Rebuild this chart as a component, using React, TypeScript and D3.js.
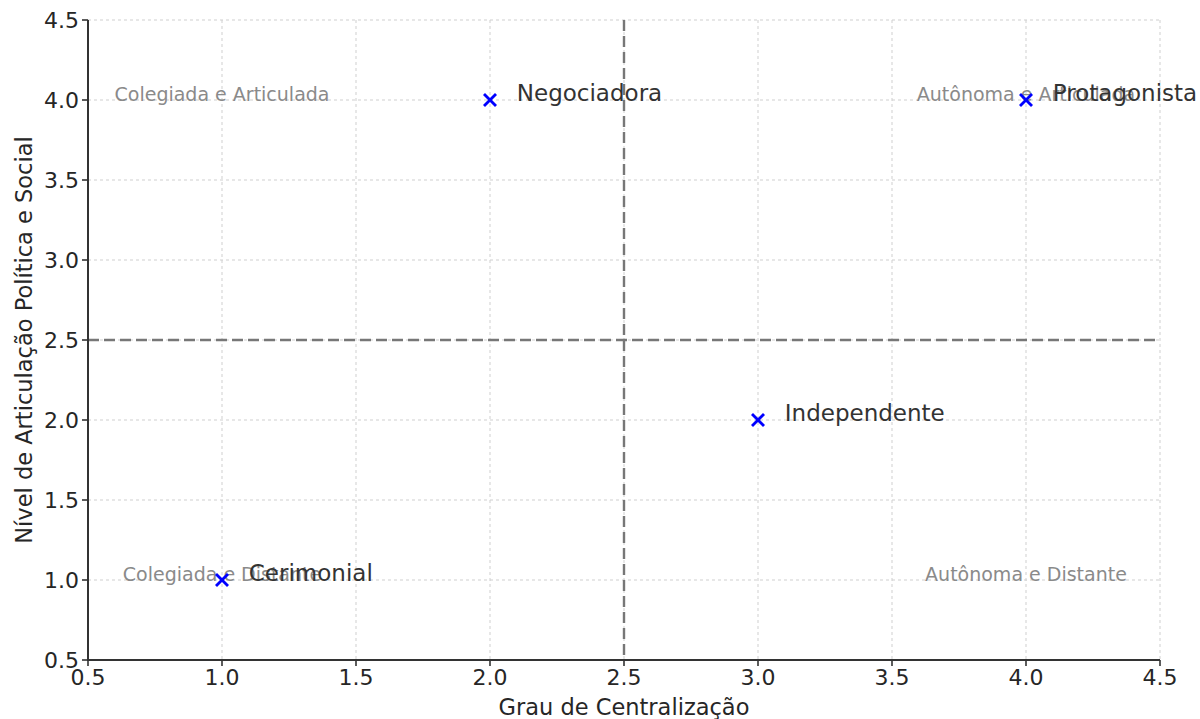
import React from 'react';
import * as d3 from 'd3';

const categories = ['Cerimonial', 'Negociadora', 'Independente', 'Protagonista'];
const centralizacao = [1, 2, 3, 4];
const articulacao = [1, 4, 2, 4];

const quadrantNames = ['Colegiada e Articulada', 'Colegiada e Distante', 'Autônoma e Articulada', 'Autônoma e Distante'];
const quadrantX = [1, 1, 4, 4];
const quadrantY = [4, 1, 4, 1];

const xTicks = [0.5, 1.0, 1.5, 2.0, 2.5, 3.0, 3.5, 4.0, 4.5];
const yTicks = [0.5, 1.0, 1.5, 2.0, 2.5, 3.0, 3.5, 4.0, 4.5];
const divider = 2.5;

const xLabel = 'Grau de Centralização';
const yLabel = 'Nível de Articulação Política e Social';

const W = 1200;
const H = 719;
const left = 88;
const right = 1160;
const top = 20;
const bottom = 660;

export default function App() {
  const x = d3.scaleLinear().domain([0.5, 4.5]).range([left, right]);
  const y = d3.scaleLinear().domain([0.5, 4.5]).range([bottom, top]);
  const font = "'DejaVu Sans', sans-serif";
  const fmt = d3.format('.1f');
  const ms = 6;

  return (
    <div style={{ position: 'fixed', left: 0, top: 0 }}>
      <svg width={W} height={H} style={{ display: 'block', background: '#fff' }} fontFamily={font}>
        {/* grid */}
        <g stroke="#cfcfcf" strokeWidth={1} strokeDasharray="3,3">
          {xTicks.map((t) => (
            <line key={'gx' + t} x1={x(t)} x2={x(t)} y1={y(4.5)} y2={y(0.5)} />
          ))}
          {yTicks.map((t) => (
            <line key={'gy' + t} x1={x(0.5)} x2={x(4.5)} y1={y(t)} y2={y(t)} />
          ))}
        </g>
        {/* quadrant dividers */}
        <g stroke="#777" strokeWidth={2.4} strokeDasharray="11,5">
          <line x1={x(divider)} x2={x(divider)} y1={y(4.5)} y2={y(0.5)} />
          <line x1={x(0.5)} x2={x(4.5)} y1={y(divider)} y2={y(divider)} />
        </g>
        {/* quadrant labels */}
        <g fill="#8a8a8a" fontSize={19} textAnchor="middle">
          {quadrantNames.map((n, i) => (
            <text key={n} x={x(quadrantX[i])} y={y(quadrantY[i]) + 1}>{n}</text>
          ))}
        </g>
        {/* points */}
        <g stroke="#0000ff" strokeWidth={2.8} strokeLinecap="butt">
          {categories.map((c, i) => {
            const cx = x(centralizacao[i]);
            const cy = y(articulacao[i]);
            return (
              <g key={c}>
                <line x1={cx - ms} y1={cy - ms} x2={cx + ms} y2={cy + ms} />
                <line x1={cx - ms} y1={cy + ms} x2={cx + ms} y2={cy - ms} />
              </g>
            );
          })}
        </g>
        {/* point labels */}
        <g fill="#333" fontSize={23}>
          {categories.map((c, i) => (
            <text key={c} x={x(centralizacao[i] + 0.1)} y={y(articulacao[i]) + 1}>{c}</text>
          ))}
        </g>
        {/* spines */}
        <g stroke="#333" strokeWidth={2}>
          <line x1={left} x2={left} y1={top} y2={bottom + 1} />
          <line x1={left - 1} x2={right} y1={bottom} y2={bottom} />
        </g>
        {/* ticks */}
        <g stroke="#333" strokeWidth={1.6}>
          {xTicks.map((t) => (
            <line key={'tx' + t} x1={x(t)} x2={x(t)} y1={bottom} y2={bottom + 6} />
          ))}
          {yTicks.map((t) => (
            <line key={'ty' + t} x1={left - 6} x2={left} y1={y(t)} y2={y(t)} />
          ))}
        </g>
        <g fill="#262626" fontSize={22}>
          {xTicks.map((t) => (
            <text key={'lx' + t} x={x(t)} y={bottom + 25} textAnchor="middle">{fmt(t)}</text>
          ))}
          {yTicks.map((t) => (
            <text key={'ly' + t} x={left - 9} y={y(t) + 8} textAnchor="end">{fmt(t)}</text>
          ))}
        </g>
        {/* axis labels */}
        <text x={(left + right) / 2} y={715} textAnchor="middle" fontSize={22.5} fill="#262626">{xLabel}</text>
        <text transform={`translate(32, ${(top + bottom) / 2}) rotate(-90)`} textAnchor="middle" fontSize={22.5} fill="#262626">{yLabel}</text>
      </svg>
    </div>
  );
}
